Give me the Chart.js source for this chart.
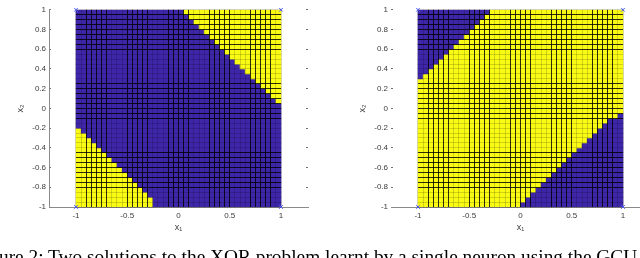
<!DOCTYPE html>
<html><head><meta charset="utf-8">
<script src="https://cdn.jsdelivr.net/npm/chart.js@4.4.1/dist/chart.umd.min.js"></script>
<style>
html,body{margin:0;padding:0;overflow:hidden;background:#fff;width:640px;height:258px;position:relative;}
#c1{position:absolute;left:0;top:0;}
#c2{position:absolute;left:342px;top:0;}
#cap{position:absolute;white-space:nowrap;font-family:"Liberation Serif","Times New Roman",serif;color:#000;line-height:1;}
</style></head><body>
<canvas id="c1" width="320" height="258"></canvas>
<canvas id="c2" width="320" height="258"></canvas>
<div id="cap">Figure 2: Two solutions to the XOR problem learnt by a single neuron using the GCU</div>
<script>
// ---- data ----
const cellStep = 0.05;
const gridStart = -1;
const nCells = 40;
const xTickValues = [-1, -0.5, 0, 0.5, 1];
const yTickValues = [-1, -0.8, -0.6, -0.4, -0.2, 0, 0.2, 0.4, 0.6, 0.8, 1];
const xorPointsX = [-1, 1, -1, 1];
const xorPointsY = [-1, -1, 1, 1];
// rows listed from the bottom (row 0 = x2 in [-1,-0.95])
// left panel: number of yellow cells counted from the left / from the right
const leftYellowFromLeft  = [15,15,14,13,12,11,10,9,8,7,6,5,4,3,2,1,0,0,0,0,0,0,0,0,0,0,0,0,0,0,0,0,0,0,0,0,0,0,0,0];
const leftYellowFromRight = [0,0,0,0,0,0,0,0,0,0,0,0,0,0,0,0,0,0,0,0,0,1,2,3,4,5,6,7,8,9,10,11,12,13,14,15,16,17,18,19];
// right panel: number of blue cells counted from the left / from the right
const rightBlueFromLeft   = [0,0,0,0,0,0,0,0,0,0,0,0,0,0,0,0,0,0,0,0,0,0,0,0,0,0,1,2,3,4,5,6,7,8,9,10,11,12,13,14];
const rightBlueFromRight  = [20,19,18,17,16,15,14,13,12,11,10,9,8,7,6,5,4,3,1,0,0,0,0,0,0,0,0,0,0,0,0,0,0,0,0,0,0,0,0,0];

// ---- styles ----
const BLUE = '#3E26A8', YELLOW = '#F9FB15';
const AXIS = '#8a8a8a', TICKTXT = '#3a3a3a', TICKMARK = '#707070';
const FONT = '"Liberation Sans", Arial, Helvetica, sans-serif';

function buildCells(fromLeft, fromRight, edgeIsYellow) {
  const pts = [];
  for (let j = 0; j < nCells; j++) {
    for (let i = 0; i < nCells; i++) {
      const edge = i < fromLeft[j] || i >= nCells - fromRight[j];
      const yellow = edgeIsYellow ? edge : !edge;
      pts.push({x: gridStart + (i + 0.5) * cellStep, y: gridStart + (j + 0.5) * cellStep, v: yellow ? 1 : 0});
    }
  }
  return pts;
}
const fmt = v => String(Math.round(v * 10) / 10);

// pcolor cell edges, placed with the chart's own scales (thin lines, sampled like the printed figure)
const pcolorEdges = {
  id: 'pcolorEdges',
  afterDatasetsDraw(chart) {
    const {ctx} = chart;
    const sx = chart.scales.x, sy = chart.scales.y;
    const vEnd = gridStart + nCells * cellStep;
    const xa = sx.getPixelForValue(gridStart), xb = sx.getPixelForValue(vEnd);
    const ya = sy.getPixelForValue(vEnd), yb = sy.getPixelForValue(gridStart);
    const w = 0.55;
    const place = p => {
      const lo = p - w / 2, hi = p + w / 2;
      const c = Math.floor(hi - 0.5) + 0.5;
      if (c >= lo) return {pix: Math.floor(c), a: 0.82};
      return {pix: Math.floor(p), a: 0.16};
    };
    ctx.save();
    for (let k = 0; k <= nCells; k++) {
      const v = gridStart + k * cellStep;
      const vx = place(sx.getPixelForValue(v));
      ctx.fillStyle = 'rgba(0,0,0,' + vx.a + ')';
      ctx.fillRect(vx.pix, ya, 1, yb - ya);
      const hy = place(sy.getPixelForValue(v));
      ctx.fillStyle = 'rgba(0,0,0,' + hy.a + ')';
      ctx.fillRect(xa, hy.pix, xb - xa, 1);
    }
    ctx.restore();
  }
};

function makePanel(id, cells, showYBorder) {
  const cellRadius = (ctx) => {
    const s = ctx.chart.scales.x;
    return (Math.abs(s.getPixelForValue(cellStep) - s.getPixelForValue(0)) + 0.5) / Math.SQRT2;
  };
  return new Chart(document.getElementById(id), {
    type: 'scatter',
    data: {
      datasets: [
        {
          data: xorPointsX.map((x, k) => ({x, y: xorPointsY[k]})),
          pointStyle: 'crossRot', pointRadius: 2.6, pointHoverRadius: 2.6,
          borderColor: '#4f5dff', backgroundColor: '#4f5dff', borderWidth: 1,
          clip: false, order: 0
        },
        {
          data: cells,
          pointStyle: 'rect',
          pointRadius: cellRadius, pointHoverRadius: cellRadius,
          backgroundColor: ctx => (ctx.raw && ctx.raw.v ? YELLOW : BLUE),
          borderWidth: 0,
          order: 1
        }
      ]
    },
    plugins: [pcolorEdges],
    options: {
      responsive: false, animation: false, events: [], devicePixelRatio: 1,
      layout: {padding: {top: 2.5, left: 0, right: 0, bottom: 0}, autoPadding: false},
      plugins: {legend: {display: false}, tooltip: {enabled: false}},
      scales: {
        x: {
          type: 'linear', position: 'bottom', min: -1.2634, max: 1.2634,
          afterBuildTicks: s => { s.ticks = xTickValues.map(v => ({value: v})); },
          afterFit: s => { s.height = 51; },
          grid: {display: true, drawOnChartArea: false, drawTicks: false},
          border: {display: true, color: AXIS, width: 1},
          ticks: {padding: 4, color: TICKTXT, font: {family: FONT, size: 8}, maxRotation: 0, autoSkip: false, callback: v => fmt(v)},
          title: {display: true, text: 'x₁', color: TICKTXT, font: {family: FONT, size: 9}, padding: {top: 0, bottom: 24.6}}
        },
        y: {
          type: 'linear', position: 'left', min: -1, max: 1,
          afterBuildTicks: s => { s.ticks = yTickValues.map(v => ({value: v})); },
          afterFit: s => { s.width = 49; },
          grid: {display: true, drawOnChartArea: false, drawTicks: true, tickLength: -2, tickColor: TICKMARK},
          border: {display: showYBorder, color: AXIS, width: 1},
          ticks: {padding: 5, color: TICKTXT, font: {family: FONT, size: 8}, autoSkip: false, callback: v => fmt(v)},
          title: {display: true, text: 'x₂', color: TICKTXT, font: {family: FONT, size: 9}, padding: {top: 15.6, bottom: 0}}
        },
        y2: {
          type: 'linear', position: 'right', min: -1, max: 1,
          afterBuildTicks: s => { s.ticks = yTickValues.map(v => ({value: v})); },
          afterFit: s => { s.width = 12; },
          grid: {display: true, drawOnChartArea: false, drawTicks: true, tickLength: -2, tickColor: TICKMARK},
          border: {display: false},
          ticks: {display: false}
        }
      }
    }
  });
}

makePanel('c1', buildCells(leftYellowFromLeft, leftYellowFromRight, true), true);
makePanel('c2', buildCells(rightBlueFromLeft, rightBlueFromRight, false), false);

// caption
(function () {
  const cap = document.getElementById('cap');
  const c = document.createElement('canvas').getContext('2d');
  const fam = '"Liberation Serif", "Times New Roman", serif';
  c.font = '100px ' + fam;
  const wVis = c.measureText('ure 2: Two solutions to the XOR problem learnt by a single neuron using the GCU').width;
  const size = 100 * 639 / wVis;
  c.font = size + 'px ' + fam;
  const wFig = c.measureText('Fig').width;
  cap.style.fontSize = size + 'px';
  cap.style.left = (-1 - wFig) + 'px';
  cap.style.top = (250 - 0.1755 * size) + 'px';
})();
</script>
</body></html>
